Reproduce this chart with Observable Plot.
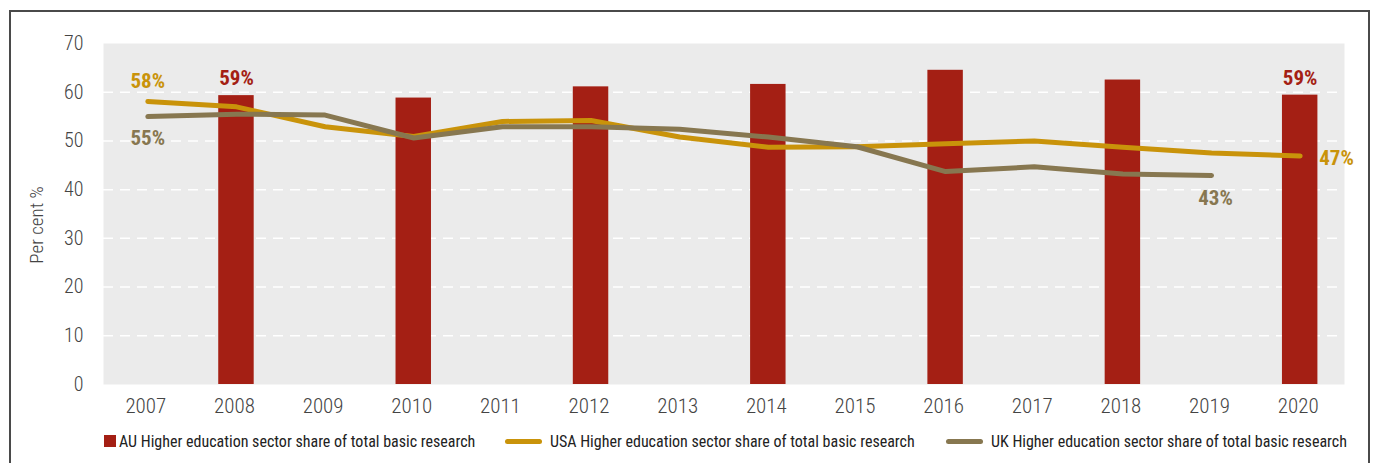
<!DOCTYPE html>
<html>
<head>
<meta charset="utf-8">
<script src="https://cdn.jsdelivr.net/npm/d3@7"></script>
<script src="https://cdn.jsdelivr.net/npm/@observablehq/plot@0.6"></script>
<style>
  html, body { margin: 0; padding: 0; background: #fff; }
  body { width: 1373px; height: 463px; position: relative; overflow: hidden;
         font-family: "Roboto Condensed", "Liberation Sans Narrow", "DejaVu Sans Condensed", Roboto, sans-serif; }
  #frame { position: absolute; left: 9px; top: 10px; width: 1361px; height: 500px; border: 2px solid #4a4a4a; box-sizing: border-box; }
  #chart { position: absolute; left: 0; top: 0; }
  #ylabel { position: absolute; left: 36px; top: 225px; transform: translate(-50%, -50%) rotate(-90deg);
            font-size: 19px; color: #444; white-space: nowrap; font-weight: 300; }
  .leg { position: absolute; top: 431px; height: 20px; display: flex; align-items: center; font-size: 16px; color: #222; white-space: nowrap; }
  .sq { width: 12px; height: 12px; margin-right: 3px; }
  .ln { width: 37px; height: 5px; border-radius: 3px; margin-right: 8px; }
</style>
</head>
<body>
<div id="frame"></div>
<div id="chart"></div>
<div id="ylabel">Per cent %</div>
<div id="legend"></div>
<script>
const years = ["2007","2008","2009","2010","2011","2012","2013","2014","2015","2016","2017","2018","2019","2020"];
const auYears = ["2008","2010","2012","2014","2016","2018","2020"];
const auValues = [59.3, 58.8, 61.1, 61.6, 64.5, 62.5, 59.4];
const usaValues = [58.1, 57.0, 52.9, 50.9, 54.0, 54.2, 50.8, 48.7, 48.8, 49.4, 50.0, 48.7, 47.5, 46.9];
const ukYears = ["2007","2008","2009","2010","2011","2012","2013","2014","2015","2016","2017","2018","2019"];
const ukValues = [55.0, 55.5, 55.3, 50.6, 52.9, 52.9, 52.4, 50.8, 48.8, 43.7, 44.7, 43.2, 42.9];
const yTicks = [0, 10, 20, 30, 40, 50, 60, 70];
const gridTicks = [10, 20, 30, 40, 50, 60];
const seriesNames = [
  "AU Higher education sector share of total basic research",
  "USA Higher education sector share of total basic research",
  "UK Higher education sector share of total basic research"
];
const colors = ["#A41F14", "#C9930A", "#877750"];

const au = auYears.map((x, i) => ({x, y: auValues[i]}));
const usa = years.map((x, i) => ({x, y: usaValues[i]}));
const uk = ukYears.map((x, i) => ({x, y: ukValues[i]}));

const FONT = '"Roboto Condensed", "Liberation Sans Narrow", "DejaVu Sans Condensed", Roboto, sans-serif';
const labelFont = {fontFamily: FONT, fontWeight: "bold", fontSize: 21};

const chart = Plot.plot({
  width: 1373,
  height: 425,
  marginLeft: 103,
  marginRight: 29,
  marginTop: 43,
  marginBottom: 41,
  style: {fontFamily: FONT, background: "transparent"},
  x: {type: "band", domain: years, paddingInner: 0.6, paddingOuter: 0.3, round: false},
  y: {domain: [0, 70]},
  marks: [
    Plot.frame({fill: "#EBEBEB", stroke: null}),
    Plot.ruleY(gridTicks, {stroke: "#fff", strokeWidth: 1.5, strokeDasharray: "10,7"}),
    Plot.axisX({tickSize: 0, tickPadding: 14, fontSize: 21, dx: -2, fill: "#444", fontWeight: 300, label: null}),
    Plot.axisY({ticks: yTicks, tickSize: 0, tickPadding: 20, fontSize: 20, fill: "#444", fontWeight: 300, label: null}),
    Plot.barY(au, {x: "x", y: "y", fill: colors[0]}),
    Plot.line(usa, {x: "x", y: "y", stroke: colors[1], strokeWidth: 5, strokeLinecap: "round", strokeLinejoin: "round"}),
    Plot.line(uk, {x: "x", y: "y", stroke: colors[2], strokeWidth: 5, strokeLinecap: "round", strokeLinejoin: "round"}),
    Plot.text([au[0], au[au.length - 1]], {x: "x", y: "y", text: d => Math.round(d.y) + "%", dy: -17, fill: colors[0], ...labelFont}),
    Plot.text([usa[0]], {x: "x", y: "y", text: d => Math.round(d.y) + "%", dy: -20, fill: colors[1], ...labelFont}),
    Plot.text([usa[usa.length - 1]], {x: "x", y: "y", text: d => Math.round(d.y) + "%", dx: 19, dy: 2, textAnchor: "start", fill: colors[1], ...labelFont}),
    Plot.text([uk[0]], {x: "x", y: "y", text: d => Math.round(d.y) + "%", dy: 22, fill: colors[2], ...labelFont}),
    Plot.text([uk[uk.length - 1]], {x: "x", y: "y", text: d => Math.round(d.y) + "%", dx: 4, dy: 23, fill: colors[2], ...labelFont})
  ]
});
document.getElementById("chart").appendChild(chart);

const legend = document.getElementById("legend");
const legLefts = [104, 505, 946];
seriesNames.forEach((name, i) => {
  const item = document.createElement("div");
  item.className = "leg";
  item.style.left = legLefts[i] + "px";
  const sw = document.createElement("div");
  sw.className = i === 0 ? "sq" : "ln";
  sw.style.background = colors[i];
  const t = document.createElement("span");
  t.textContent = name;
  item.appendChild(sw);
  item.appendChild(t);
  legend.appendChild(item);
});
</script>
</body>
</html>
